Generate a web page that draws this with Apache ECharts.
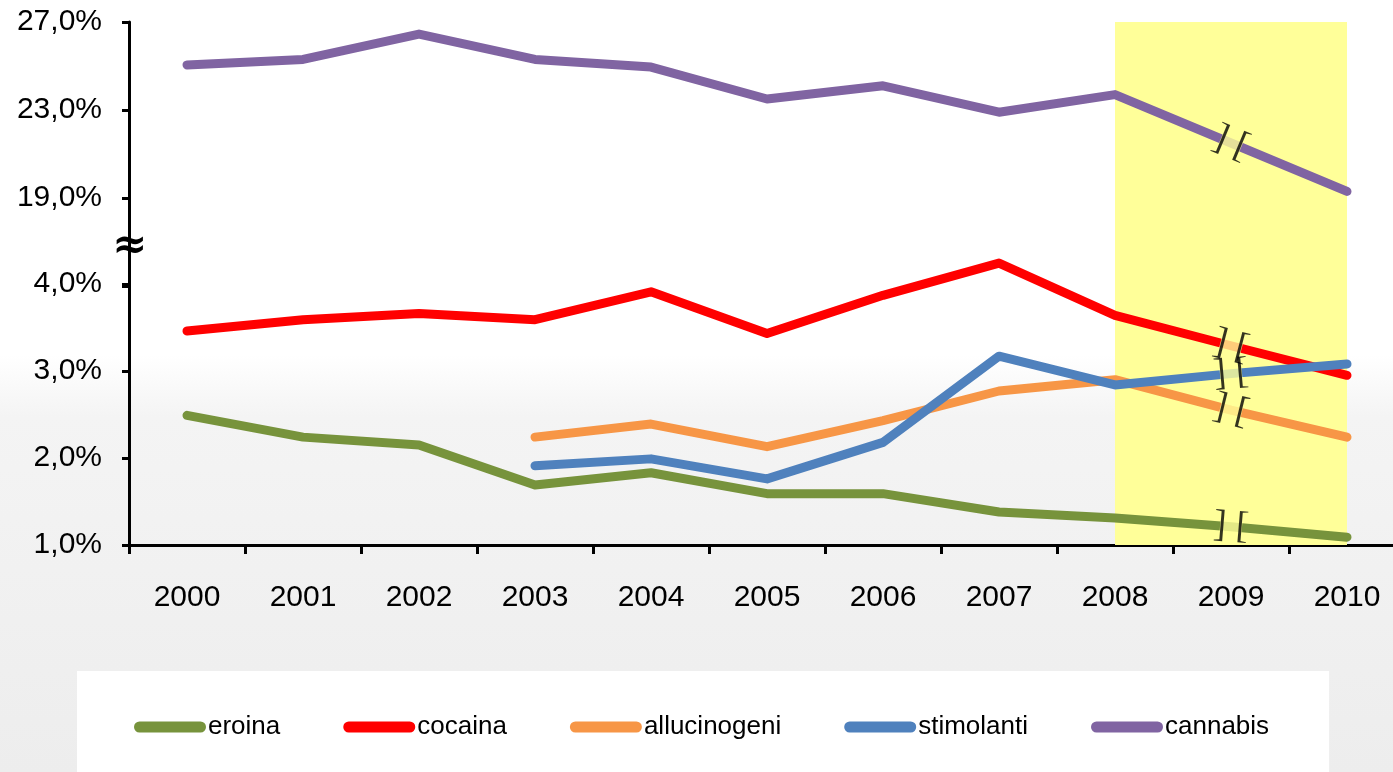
<!DOCTYPE html>
<html>
<head>
<meta charset="utf-8">
<script src="https://cdn.jsdelivr.net/npm/echarts@6/dist/echarts.min.js"></script>
<style>
html,body{margin:0;padding:0;background:#fff;overflow:hidden;}
#chart{width:1405px;height:772px;}
</style>
</head>
<body>
<div id="chart"></div>
<script>
const years = ['2000','2001','2002','2003','2004','2005','2006','2007','2008','2009','2010'];
const eroina       = [2.49, 2.24, 2.15, 1.69, 1.83, 1.59, 1.59, 1.38, 1.31, 1.21, 1.09];
const cocaina      = [3.46, 3.59, 3.66, 3.59, 3.91, 3.43, 3.87, 4.24, 3.64, 3.29, 2.95];
const allucinogeni = [null, null, null, 2.24, 2.39, 2.13, 2.43, 2.77, 2.90, 2.55, 2.24];
const stimolanti   = [null, null, null, 1.91, 1.99, 1.76, 2.18, 3.17, 2.84, 2.97, 3.08];
const cannabis     = [25.05, 25.3, 26.45, 25.3, 24.95, 23.5, 24.1, 22.9, 23.7, 21.5, 19.3];
const upperTicks = [19, 23, 27];
const lowerTicks = [1, 2, 3, 4];
const highlightFrom = '2008';
const highlightTo = '2010';
const breakYear = '2009';

const colors = {
  eroina: '#77933C', cocaina: '#FF0000', allucinogeni: '#F79646',
  stimolanti: '#4F81BD', cannabis: '#8064A2'
};
const fmt = v => v.toFixed(1).replace('.', ',') + '%';
const FONT = 'Liberation Sans, Arial, sans-serif';

const chart = echarts.init(document.getElementById('chart'), null, {renderer: 'canvas'});

function lineSeries(name, data, gridIdx) {
  return {
    name: name, type: 'line', data: data,
    xAxisIndex: gridIdx, yAxisIndex: gridIdx,
    symbol: 'none', showSymbol: false, clip: false, z: 3,
    lineStyle: {color: colors[name], width: 9, cap: 'round', join: 'round'},
    itemStyle: {color: colors[name]},
    emphasis: {disabled: true}
  };
}
const yellowArea = {
  silent: true,
  itemStyle: {color: '#FFFF99'},
  data: [[{xAxis: highlightFrom}, {xAxis: highlightTo}]]
};

const axisCommon = {
  axisLine: {show: true, lineStyle: {color: '#000', width: 3}},
  axisTick: {show: true, inside: false, length: 7, lineStyle: {color: '#000', width: 3}},
  splitLine: {show: false},
  axisLabel: {color: '#000', fontSize: 30, fontFamily: FONT, margin: 27}
};

const option = {
  animation: false,
  backgroundColor: {
    type: 'linear', x: 0, y: 0, x2: 0, y2: 1,
    colorStops: [
      {offset: 0, color: '#ffffff'},
      {offset: 0.46, color: '#ffffff'},
      {offset: 0.54, color: '#f4f4f4'},
      {offset: 1, color: '#ededed'}
    ]
  },
  grid: [
    {left: 129, top: 22, right: 0, height: 264},
    {left: 129, top: 284, right: 0, height: 261}
  ],
  xAxis: [
    {type: 'category', gridIndex: 0, data: years, boundaryGap: true, show: false},
    {type: 'category', gridIndex: 1, data: years, boundaryGap: true,
     axisLine: {lineStyle: {color: '#000', width: 3}},
     axisTick: {show: true, interval: 0, length: 9, lineStyle: {color: '#000', width: 3}},
     axisLabel: {color: '#000', fontSize: 30, fontFamily: FONT, margin: 38, interval: 0}}
  ],
  yAxis: [
    Object.assign({}, axisCommon, {
      type: 'value', gridIndex: 0, min: 15, max: 27, interval: 4,
      axisLabel: Object.assign({}, axisCommon.axisLabel, {
        formatter: v => upperTicks.indexOf(v) >= 0 ? fmt(v) : ''
      })
    }),
    Object.assign({}, axisCommon, {
      type: 'value', gridIndex: 1, min: 1, max: 4, interval: 1,
      axisLabel: Object.assign({}, axisCommon.axisLabel, {
        formatter: v => lowerTicks.indexOf(v) >= 0 ? fmt(v) : ''
      })
    })
  ],
  legend: {
    data: ['eroina', 'cocaina', 'allucinogeni', 'stimolanti', 'cannabis'],
    left: 77, top: 671,
    padding: [43, 60, 45, 57],
    backgroundColor: '#ffffff',
    itemWidth: 72, itemHeight: 11, itemGap: 63,
    icon: 'path://M5.5,0H66.5A5.5,5.5,0,0,1,66.5,11H5.5A5.5,5.5,0,0,1,5.5,0Z',
    selectedMode: false,
    textStyle: {color: '#000', fontSize: 26, fontFamily: FONT, padding: [0, 0, 0, -3]}
  },
  graphic: [
    {type: 'text', left: 112, top: 226, z: 100,
     style: {text: '≈', fontSize: 42, fontWeight: 'bold', fill: '#000', fontFamily: 'DejaVu Serif, serif'}}
  ],
  series: [
    {type: 'line', name: '_areaUp', data: [], xAxisIndex: 0, yAxisIndex: 0, z: 1, markArea: yellowArea},
    {type: 'line', name: '_areaLow', data: [], xAxisIndex: 1, yAxisIndex: 1, z: 1, markArea: yellowArea},
    lineSeries('eroina', eroina, 1),
    lineSeries('cocaina', cocaina, 1),
    lineSeries('allucinogeni', allucinogeni, 1),
    lineSeries('stimolanti', stimolanti, 1),
    lineSeries('cannabis', cannabis, 0)
  ]
};
chart.setOption(option);

// break marks ("] [") at the 2009 point of every series, oriented along the line
const idx = years.indexOf(breakYear);
const seriesList = [['eroina', eroina, 1], ['cocaina', cocaina, 1], ['allucinogeni', allucinogeni, 1], ['stimolanti', stimolanti, 1], ['cannabis', cannabis, 0]];
const marks = [[], []];
seriesList.forEach(([name, arr, g]) => {
  const p1 = chart.convertToPixel({seriesName: name}, [idx - 1, arr[idx - 1]]);
  const p2 = chart.convertToPixel({seriesName: name}, [idx + 1, arr[idx + 1]]);
  const ang = -Math.atan2(p2[1] - p1[1], p2[0] - p1[0]) * 180 / Math.PI;
  marks[g].push({value: [idx, arr[idx]], symbolRotate: ang, label: {rotate: ang}});
});
function breakSeries(g) {
  return {
    type: 'scatter', name: '_break' + g, xAxisIndex: g, yAxisIndex: g, z: 10,
    silent: true, clip: false,
    symbol: 'rect', symbolSize: [22, 17],
    itemStyle: {color: '#FFFF99'},
    label: {show: true, position: 'inside', formatter: '] [', color: '#000',
            fontSize: 38, fontFamily: 'Liberation Serif, serif'},
    data: marks[g]
  };
}
option.series.push(breakSeries(0), breakSeries(1));
chart.setOption(option);
</script>
</body>
</html>
